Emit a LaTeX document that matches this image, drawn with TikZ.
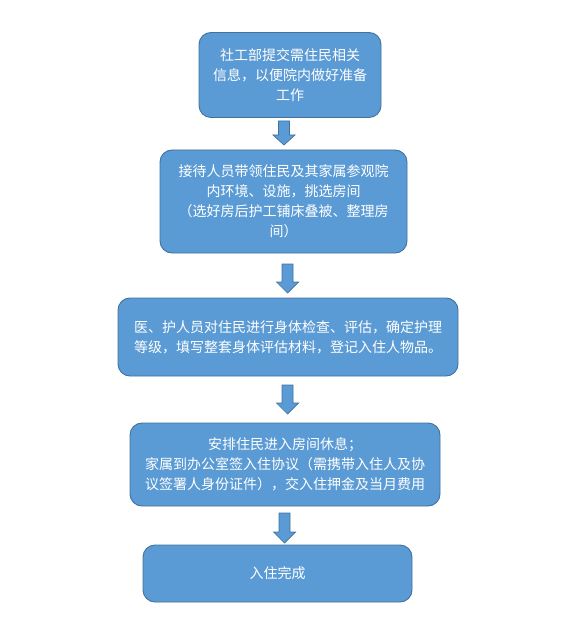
\documentclass[tikz,border=0pt]{standalone}
\usepackage{fontspec}
\newfontfamily\cjk{Noto Sans CJK SC}
\definecolor{boxblue}{HTML}{5B9BD5}
\definecolor{edgeblue}{HTML}{41719C}
\tikzset{
  stepbox/.style={draw=edgeblue, fill=boxblue, line width=0.9pt, rounded corners=12pt,
    text=white, align=center, inner sep=0pt,
    font=\cjk\fontsize{14pt}{20pt}\selectfont},
  blockarrow/.style={draw=edgeblue, fill=boxblue, line width=0.7pt}
}
% block arrow: x, top, neck, tip
\newcommand{\downblock}[4]{%
  \draw[blockarrow] (#1-5.5,#2) -- (#1+5.5,#2) -- (#1+5.5,#3) -- (#1+11,#3)
    -- (#1,#4) -- (#1-11,#3) -- (#1-5.5,#3) -- cycle;}
\begin{document}
\begin{tikzpicture}[x=1pt, y=-1pt]
    \useasboundingbox (0,0) rectangle (586,644);

    % Steps
    \node[stepbox, minimum width=182pt, minimum height=85pt] (s1) at (290,75)
      {社工部提交需住民相关\\信息，以便院内做好准备\\工作};
    \node[stepbox, minimum width=247pt, minimum height=103pt] (s2) at (283.5,201.5)
      {接待人员带领住民及其家属参观院\\内环境、设施，挑选房间\\（选好房后护工铺床叠被、整理房\\间）};
    \node[stepbox, minimum width=340pt, minimum height=78pt] (s3) at (288,337)
      {医、护人员对住民进行身体检查、评估，确定护理\\等级，填写整套身体评估材料，登记入住人物品。};
    \node[stepbox, minimum width=310pt, minimum height=83pt] (s4) at (285,464.5)
      {安排住民进入房间休息；\\家属到办公室签入住协议（需携带入住人及协\\议签署人身份证件），交入住押金及当月费用};
    \node[stepbox, minimum width=269pt, minimum height=57pt] (s5) at (277.5,573.5)
      {入住完成};

    % Arrows
    \downblock{284}{121}{135}{145}
    \downblock{287.5}{264}{282}{293}
    \downblock{287.5}{385}{403}{414}
    \downblock{284.5}{513}{532}{543}
\end{tikzpicture}
\end{document}
